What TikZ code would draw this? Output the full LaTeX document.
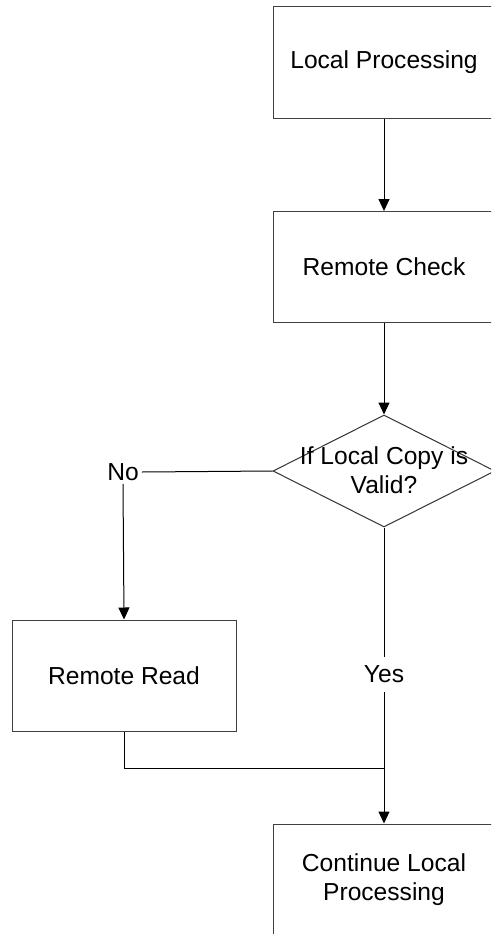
\documentclass[tikz,border=0pt]{standalone}
\usepackage{fontspec}
\setmainfont{Liberation Sans}
\usetikzlibrary{shapes.geometric,arrows.meta}
\tikzset{
  stepbox/.style={draw=black!75, line width=1pt, rectangle, minimum width=222pt,
    minimum height=111pt, inner sep=0pt, align=center},
  decision/.style={draw=black!80, line width=1pt, diamond, minimum width=222pt,
    minimum height=112pt, inner sep=0pt},
  txt/.style={align=center, inner sep=0pt, font=\fontsize{24.6}{29.5}\selectfont},
  flow/.style={line width=1pt, draw=black},
  arrowed/.style={flow, -{Triangle[length=12pt,width=11pt]}},
}
\begin{document}
\begin{tikzpicture}[x=1pt,y=-1pt]
  \useasboundingbox (0,0) rectangle (491,934);
  \clip (0,0) rectangle (491,934);
  \fill[white] (0,0) rectangle (491,934);

  % process steps
  \node[stepbox, txt] (local) at (384,62.5) {Local Processing};
  \node[stepbox, txt] (check) at (384,267) {Remote Check};
  \node[decision] (valid) at (384,471) {};
  \node[txt] (validtext) at (384,470) {If Local Copy is\\Valid?};
  \node[stepbox, txt, minimum width=224pt] (read) at (124,675.5) {Remote Read};
  \node[stepbox, txt] (cont) at (384,879.5) {Continue Local\\Processing};

  % branch labels
  \node[txt, inner sep=3pt] (no) at (123,472) {No};
  \node[txt, minimum height=35pt] (yes) at (384,674.5) {Yes};
  \coordinate (merge) at (384,768);

  % connectors
  \draw[arrowed] (local.south) -- (check.north);
  \draw[arrowed] (check.south) -- (valid.north);
  \draw[flow] (valid.west) -- (no.east);
  \draw[arrowed] (no.south) -- (read.north);
  \draw[flow] (valid.south) -- (yes.north);
  \draw[arrowed] (yes.south) -- (cont.north);
  \draw[flow] (read.south) |- (merge);
\end{tikzpicture}
\end{document}
